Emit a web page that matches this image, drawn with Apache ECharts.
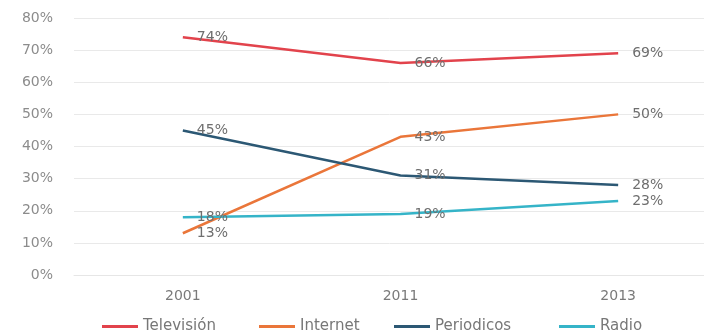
<!DOCTYPE html>
<html>
<head>
<meta charset="utf-8">
<script src="https://cdn.jsdelivr.net/npm/echarts@6/dist/echarts.min.js"></script>
<style>
  html, body { margin: 0; padding: 0; background: #fff; }
  #chart { width: 704px; height: 336px; }
</style>
</head>
<body>
<div id="chart"></div>
<script>
// Years on the category axis
const years = ['2001', '2011', '2013'];

// Share of people using each medium (%)
const television = [74, 66, 69];
const internet = [13, 43, 50];
const periodicos = [45, 31, 28];
const radio = [18, 19, 23];

// Value-axis ticks (%)
const yTicks = [0, 10, 20, 30, 40, 50, 60, 70, 80];

const fontFamily = '"DejaVu Sans", sans-serif';

// One legend box per medium, each with its own left offset
const legendNames = ['Televisión', 'Internet', 'Periodicos', 'Radio'];
const legendLefts = [97, 254, 389, 554];

function lineSeries(name, data, color) {
  return {
    name: name,
    type: 'line',
    data: data,
    symbol: 'circle',
    symbolSize: 0,
    showSymbol: true,
    lineStyle: { color: color, width: 2.5 },
    itemStyle: { color: color },
    label: {
      show: true,
      position: 'right',
      distance: 14,
      formatter: '{c}%',
      color: '#6e6e6e',
      fontSize: 14,
      fontFamily: fontFamily
    },
    labelLayout: { hideOverlap: false }
  };
}

const legends = legendNames.map(function (name, i) {
  return {
    bottom: -3,
    left: legendLefts[i],
    itemWidth: 36,
    itemHeight: 3,
    icon: 'rect',
    textStyle: { color: '#777777', fontSize: 15, fontFamily: fontFamily },
    data: [name]
  };
});

const chart = echarts.init(document.getElementById('chart'));
chart.setOption({
  animation: false,
  grid: {
    left: 74, top: 18, width: 653, height: 257,
    containLabel: false, outerBoundsMode: 'none'
  },
  legend: legends,
  xAxis: {
    type: 'category',
    data: years,
    boundaryGap: true,
    axisLine: { lineStyle: { color: '#e6e6e6' } },
    axisTick: { show: false },
    axisLabel: { color: '#7a7a7a', fontSize: 14, fontFamily: fontFamily, margin: 14 }
  },
  yAxis: {
    type: 'value',
    min: yTicks[0],
    max: yTicks[yTicks.length - 1],
    interval: 10,
    axisLine: { show: false },
    axisTick: { show: false },
    splitLine: { lineStyle: { color: '#e9e9e9', width: 1 } },
    axisLabel: {
      formatter: '{value}%',
      color: '#8c8c8c',
      fontSize: 14,
      fontFamily: fontFamily,
      margin: 21
    }
  },
  series: [
    lineSeries('Televisión', television, '#e2434c'),
    lineSeries('Internet', internet, '#ea763a'),
    lineSeries('Periodicos', periodicos, '#2c5874'),
    lineSeries('Radio', radio, '#35b4c8')
  ]
});
</script>
</body>
</html>
